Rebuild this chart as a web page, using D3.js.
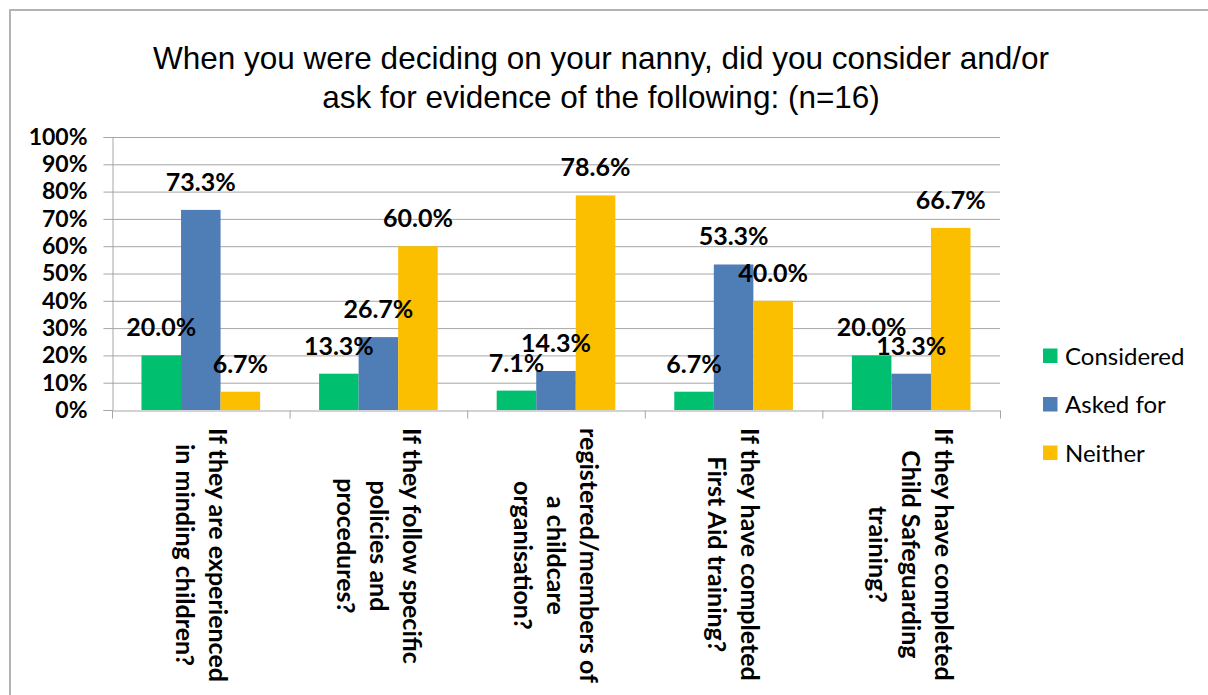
<!DOCTYPE html>
<html>
<head>
<meta charset="utf-8">
<script src="https://cdn.jsdelivr.net/npm/d3@7"></script>
<style>
  html, body { margin: 0; padding: 0; background: #fff; }
  svg { display: block; }
</style>
</head>
<body>
<svg id="chart" width="1208" height="695"></svg>
<script>
// Survey question labels, one array of wrapped lines per category
const categories = [
  ["If they are experienced", "in minding children?"],
  ["If they follow specific", "policies and", "procedures?"],
  ["registered/members of", "a childcare", "organisation?"],
  ["If they have completed", "First Aid training?"],
  ["If they have completed", "Child Safeguarding", "training?"]
];
const seriesNames = ["Considered", "Asked for", "Neither"];
const considered = [20.0, 13.3, 7.1, 6.7, 20.0];
const askedFor   = [73.3, 26.7, 14.3, 53.3, 13.3];
const neither    = [6.7, 60.0, 78.6, 40.0, 66.7];
const yTicks = [0, 10, 20, 30, 40, 50, 60, 70, 80, 90, 100];
const titleLines = [
  "When you were deciding on your nanny, did you consider and/or",
  "ask for evidence of the following: (n=16)"
];

const seriesValues = [considered, askedFor, neither];
const colors = ["#00BF6F", "#4F7DB6", "#FBBF00"];

const svg = d3.select("#chart");
const W = 1208, H = 695;
const plot = { left: 112, right: 1000, top: 137, bottom: 410 };
const labelFont = "Lato, 'Open Sans', 'DejaVu Sans', sans-serif";
const gridColor = "#A6A6A6";

// Outer chart frame (only top and left edges fall inside the page)
svg.append("path")
  .attr("d", `M10,${H} L10,10 L${W},10`)
  .attr("fill", "none")
  .attr("stroke", "#B3B3B3")
  .attr("stroke-width", 2);

// Title
svg.append("g").selectAll("text")
  .data(titleLines)
  .join("text")
  .attr("x", 601)
  .attr("y", (d, i) => 69 + i * 39)
  .attr("text-anchor", "middle")
  .attr("font-family", "'Liberation Sans', Arial, sans-serif")
  .attr("font-size", 31.5)
  .attr("fill", "#000")
  .text(d => d);

// Scales
const idx = categories.map((d, i) => i);
const x = d3.scaleBand().domain(idx).range([plot.left, plot.right]).padding(0);
const bw = x.bandwidth();
const xs = d3.scaleBand().domain(seriesNames).range([bw * 0.166, bw * 0.834]).padding(0);
const y = d3.scaleLinear().domain([0, 100]).range([plot.bottom, plot.top]);

// Horizontal gridlines
svg.append("g").selectAll("line")
  .data(yTicks.filter(t => t > 0))
  .join("line")
  .attr("x1", plot.left).attr("x2", plot.right)
  .attr("y1", d => y(d) + 0.5).attr("y2", d => y(d) + 0.5)
  .attr("stroke", gridColor).attr("stroke-width", 1);

// Y axis
const yAxis = svg.append("g")
  .attr("transform", `translate(${plot.left + 0.5},0)`)
  .call(d3.axisLeft(y).tickValues(yTicks).tickFormat(d => d + "%").tickSize(9).tickPadding(16));
yAxis.select(".domain").attr("stroke", gridColor);
yAxis.selectAll(".tick line").attr("stroke", gridColor);
yAxis.selectAll(".tick text")
  .attr("font-family", labelFont)
  .attr("font-weight", "bold")
  .attr("font-size", 23)
  .attr("fill", "#000");

// Bars
const groups = svg.append("g").selectAll("g")
  .data(idx)
  .join("g")
  .attr("transform", i => `translate(${x(i)},0)`);

groups.selectAll("rect")
  .data(i => seriesNames.map((s, k) => ({ s, k, v: seriesValues[k][i] })))
  .join("rect")
  .attr("x", d => xs(d.s))
  .attr("width", xs.bandwidth())
  .attr("y", d => y(d.v))
  .attr("height", d => y(0) - y(d.v))
  .attr("fill", d => colors[d.k]);

// X axis line and category boundary ticks
const xAxis = svg.append("g")
  .attr("transform", `translate(0,${plot.bottom + 0.5})`)
  .call(d3.axisBottom(d3.scaleLinear().domain([0, categories.length]).range([plot.left, plot.right]))
    .tickValues(d3.range(categories.length + 1)).tickSize(8).tickSizeOuter(0).tickFormat(""));
xAxis.select(".domain").attr("stroke", gridColor);
xAxis.selectAll(".tick line").attr("stroke", gridColor);

// Value labels above each bar
groups.selectAll("text.value")
  .data(i => seriesNames.map((s, k) => ({ s, k, v: seriesValues[k][i] })))
  .join("text")
  .attr("class", "value")
  .attr("x", d => xs(d.s) + xs.bandwidth() / 2)
  .attr("y", d => y(d.v) - 19)
  .attr("text-anchor", "middle")
  .attr("font-family", labelFont)
  .attr("font-weight", "bold")
  .attr("font-size", 25)
  .attr("fill", "#000")
  .text(d => d.v.toFixed(1) + "%");

// Rotated category labels, reading top to bottom
const catTop = 428, lineGap = 33, catFont = 25;
const catG = svg.append("g");
categories.forEach((lines, i) => {
  const cx = x(i) + bw / 2;
  const t = catG.append("text")
    .attr("font-family", labelFont)
    .attr("font-weight", "bold")
    .attr("font-size", catFont)
    .attr("fill", "#000")
    .attr("text-anchor", "middle");
  const spans = t.selectAll("tspan").data(lines).join("tspan").text(d => d);
  // longest line starts at catTop; all lines centred on it
  let maxLen = 0;
  spans.each(function () { maxLen = Math.max(maxLen, this.getComputedTextLength()); });
  const mid = catTop + maxLen / 2;
  t.attr("transform", `translate(${cx},${mid}) rotate(90)`);
  spans
    .attr("x", 0)
    .attr("y", (d, k) => (k - (lines.length - 1) / 2) * lineGap)
    .attr("dy", "0.35em");
});

// Legend
const legend = svg.append("g").attr("transform", "translate(1043,356)");
const items = legend.selectAll("g")
  .data(seriesNames)
  .join("g")
  .attr("transform", (d, i) => `translate(0,${i * 48.5})`);
items.append("rect")
  .attr("x", 0).attr("y", -7.5)
  .attr("width", 14.5).attr("height", 14.5)
  .attr("fill", (d, i) => colors[i]);
items.append("text")
  .attr("x", 22).attr("y", 0).attr("dy", "0.36em")
  .attr("font-family", labelFont)
  .attr("font-size", 24)
  .attr("fill", "#000")
  .text(d => d);
</script>
</body>
</html>
